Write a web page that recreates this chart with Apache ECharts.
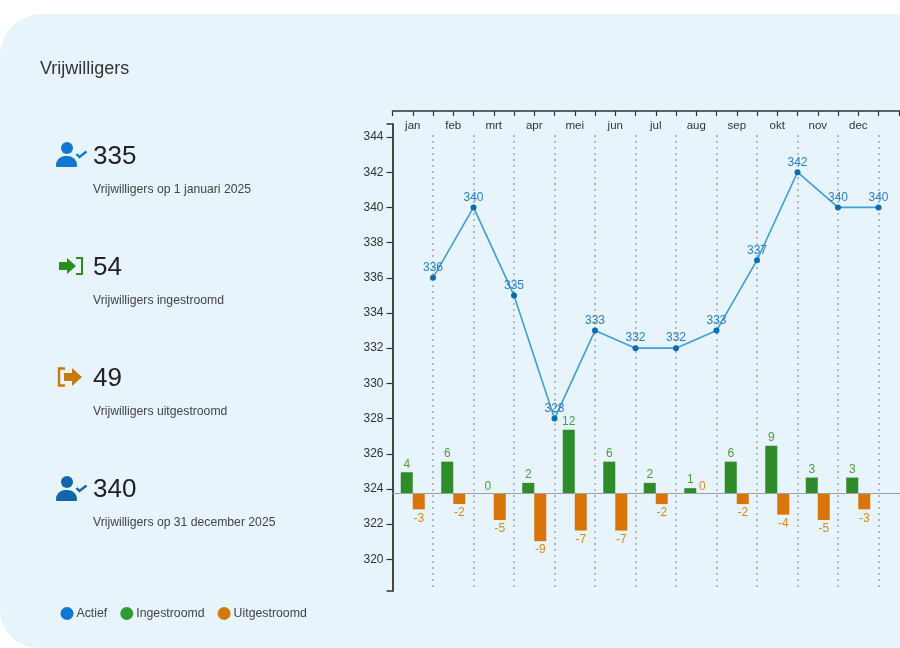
<!DOCTYPE html>
<html>
<head>
<meta charset="utf-8">
<style>
html,body{margin:0;padding:0;background:#fff;overflow:hidden}
#c{width:900px;height:648px;filter:blur(0.35px)}
</style>
<script src="https://cdn.jsdelivr.net/npm/echarts@6/dist/echarts.min.js"></script>
</head>
<body>
<div id="c"></div>
<script>
const months = ['jan','feb','mrt','apr','mei','jun','jul','aug','sep','okt','nov','dec'];
const monthEnd = [1,2,3,4,5,6,7,8,9,10,11,12];
const actief = [336,340,335,328,333,332,332,333,337,342,340,340];
const ingestroomd = [4,6,0,2,12,6,2,1,6,9,3,3];
const uitgestroomd = [-3,-2,-5,-9,-7,-7,-2,0,-2,-4,-5,-3];
const kpiValues = ['335','54','49','340'];
const kpiLabels = ['Vrijwilligers op 1 januari 2025','Vrijwilligers ingestroomd','Vrijwilligers uitgestroomd','Vrijwilligers op 31 december 2025'];
const kpiValueY = [156.5,267.5,378.5,489.5];
const kpiLabelY = [189.5,300.5,412,523];

const FONT = '"Liberation Sans", Arial, sans-serif';
const cats = months.concat(['']);
const axisColor = '#333';

function personIcon(x, y, color){
  return [
    {type:'circle', z:5, shape:{cx:x+11, cy:y+6, r:6}, style:{fill:color}},
    {type:'rect', z:5, shape:{x:x, y:y+14, width:21, height:11, r:[9,9,1,1]}, style:{fill:color}},
    {type:'polyline', z:5, shape:{points:[[x+20.5,y+12],[x+23.5,y+15],[x+30.5,y+9.5]]}, style:{stroke:color, lineWidth:2.4, fill:null}}
  ];
}
function arrowIn(x, y, color){
  return [
    {type:'polygon', z:5, shape:{points:[[x,y+6],[x+8,y+6],[x+8,y+2],[x+17,y+10],[x+8,y+18],[x+8,y+14],[x,y+14]]}, style:{fill:color}},
    {type:'polyline', z:5, shape:{points:[[x+17,y+2],[x+23,y+2],[x+23,y+18],[x+17,y+18]]}, style:{stroke:color, lineWidth:2, fill:null}}
  ];
}
function arrowOut(x, y, color){
  return [
    {type:'polyline', z:5, shape:{points:[[x+7,y+1.5],[x+1,y+1.5],[x+1,y+18.5],[x+7,y+18.5]]}, style:{stroke:color, lineWidth:2.4, fill:null}},
    {type:'polygon', z:5, shape:{points:[[x+6,y+6],[x+14,y+6],[x+14,y+1],[x+24,y+10],[x+14,y+19],[x+14,y+14],[x+6,y+14]]}, style:{fill:color}}
  ];
}
const graphics = [
  {type:'rect', z:-10, shape:{x:0,y:14,width:900,height:634,r:[42,0,0,38]}, style:{fill:'#e7f4fb'}},
  {type:'text', z:5, x:40, y:69, style:{text:'Vrijwilligers', font:'18px '+FONT, fill:'#333', verticalAlign:'middle'}}
];
kpiValues.forEach((v,i)=>{
  graphics.push({type:'text', z:5, x:93, y:kpiValueY[i], style:{text:v, font:'26px '+FONT, fill:'#222', verticalAlign:'middle'}});
  graphics.push({type:'text', z:5, x:93, y:kpiLabelY[i], style:{text:kpiLabels[i], font:'12.2px '+FONT, fill:'#444', verticalAlign:'middle'}});
});
graphics.push(...personIcon(56,142,'#1278cf'));
graphics.push(...arrowIn(59,256,'#2c8c1e'));
graphics.push(...arrowOut(58,367,'#c87a10'));
graphics.push(...personIcon(56,476,'#0f66ad'));

const zeroOnTop = v => v===0 ? {value:v, label:{position:'top', distance:1}} : v;

const chart = echarts.init(document.getElementById('c'), null, {renderer:'canvas', width:900, height:648});
chart.setOption({
  animation:false,
  backgroundColor:'transparent',
  textStyle:{fontFamily:FONT},
  graphic:graphics,
  legend:{
    left:55.5, top:602, itemWidth:13, itemHeight:13, itemGap:13,
    icon:'circle',
    textStyle:{fontSize:12.3, color:'#444', fontFamily:FONT, padding:[0,0,0,-2]},
    data:[
      {name:'Actief', itemStyle:{color:'#0f78d2'}},
      {name:'Ingestroomd', itemStyle:{color:'#2f9a2f'}},
      {name:'Uitgestroomd', itemStyle:{color:'#d27a10'}}
    ]
  },
  grid:[
    {left:392.5, top:124, width:526.5, height:467, containLabel:false, outerBoundsMode:'none'},
    {left:392.5, top:135, width:526.5, height:456, containLabel:false, outerBoundsMode:'none'}
  ],
  xAxis:[
    {type:'category', gridIndex:0, position:'top', offset:13, data:cats,
     axisLine:{onZero:false, lineStyle:{color:axisColor,width:1.5}},
     axisTick:{show:true, inside:true, length:5, lineStyle:{color:axisColor,width:1.2}},
     axisLabel:{show:true, inside:true, interval:0, margin:9, fontSize:11.5, color:'#333', fontFamily:FONT, verticalAlign:'top'},
     splitLine:{show:false}},
    {type:'category', gridIndex:0, position:'top', offset:13, data:cats,
     axisLine:{show:false, onZero:false},
     axisTick:{show:true, inside:true, alignWithLabel:true, interval:0, length:5, lineStyle:{color:axisColor,width:1.2}},
     axisLabel:{show:false}, splitLine:{show:false}},
    {type:'value', gridIndex:0, min:0, max:13, show:false},
    {type:'category', gridIndex:1, data:cats,
     axisLine:{show:false, onZero:false}, axisTick:{show:false}, axisLabel:{show:false},
     splitLine:{show:true, showMinLine:false, interval:0, lineStyle:{type:[2,4], color:'#a2a8ac', width:1.5}}}
  ],
  yAxis:[
    {type:'value', gridIndex:0, min:318.2, max:344.74, splitNumber:13, position:'left',
     axisLine:{show:true, onZero:false, lineStyle:{color:axisColor,width:1.8}},
     axisTick:{show:true, length:6, lineStyle:{color:axisColor,width:1.2}},
     axisLabel:{fontSize:12, color:'#333', margin:9, showMinLabel:false, showMaxLabel:false, fontFamily:FONT},
     splitLine:{show:false}},
    {type:'value', gridIndex:0, min:-18.4, max:69.7, show:false, splitLine:{show:false}},
    {type:'value', gridIndex:1, min:0, max:1, show:false, splitLine:{show:false}},
    {type:'value', gridIndex:0, min:0, max:1, interval:1, position:'left',
     axisLine:{show:false, onZero:false},
     axisTick:{show:true, length:6, lineStyle:{color:axisColor,width:1.5}},
     axisLabel:{show:false}, splitLine:{show:false}}
  ],
  series:[
    {name:'Ingestroomd', type:'bar', xAxisIndex:0, yAxisIndex:1, data:ingestroomd.map(zeroOnTop), barWidth:12, barGap:'0%',
     itemStyle:{color:'#2f8c2a'},
     label:{show:true, position:'outside', distance:2, fontSize:12, color:'#4f9a3f', fontFamily:FONT},
     markLine:{silent:true, symbol:'none', label:{show:false}, lineStyle:{color:'#9aa2a6', width:1.2, type:'solid'}, data:[{yAxis:0}]}
    },
    {name:'Uitgestroomd', type:'bar', xAxisIndex:0, yAxisIndex:1,
     data:uitgestroomd.map(zeroOnTop), barWidth:12, barGap:'0%',
     itemStyle:{color:'#d87408'},
     label:{show:true, position:'outside', distance:3, fontSize:12, color:'#d08a20', fontFamily:FONT}
    },
    {name:'Actief', type:'line', xAxisIndex:2, yAxisIndex:0, z:4,
     data:monthEnd.map((m,i)=>[m, actief[i]]),
     symbol:'circle', symbolSize:6, showSymbol:true,
     lineStyle:{color:'#3d9fd6', width:1.6},
     itemStyle:{color:'#0b6cb0'},
     label:{show:true, position:'top', distance:1, fontSize:12, color:'#2a80c4', fontFamily:FONT, formatter:p=>p.value[1]}
    }
  ]
});
</script>
</body>
</html>
